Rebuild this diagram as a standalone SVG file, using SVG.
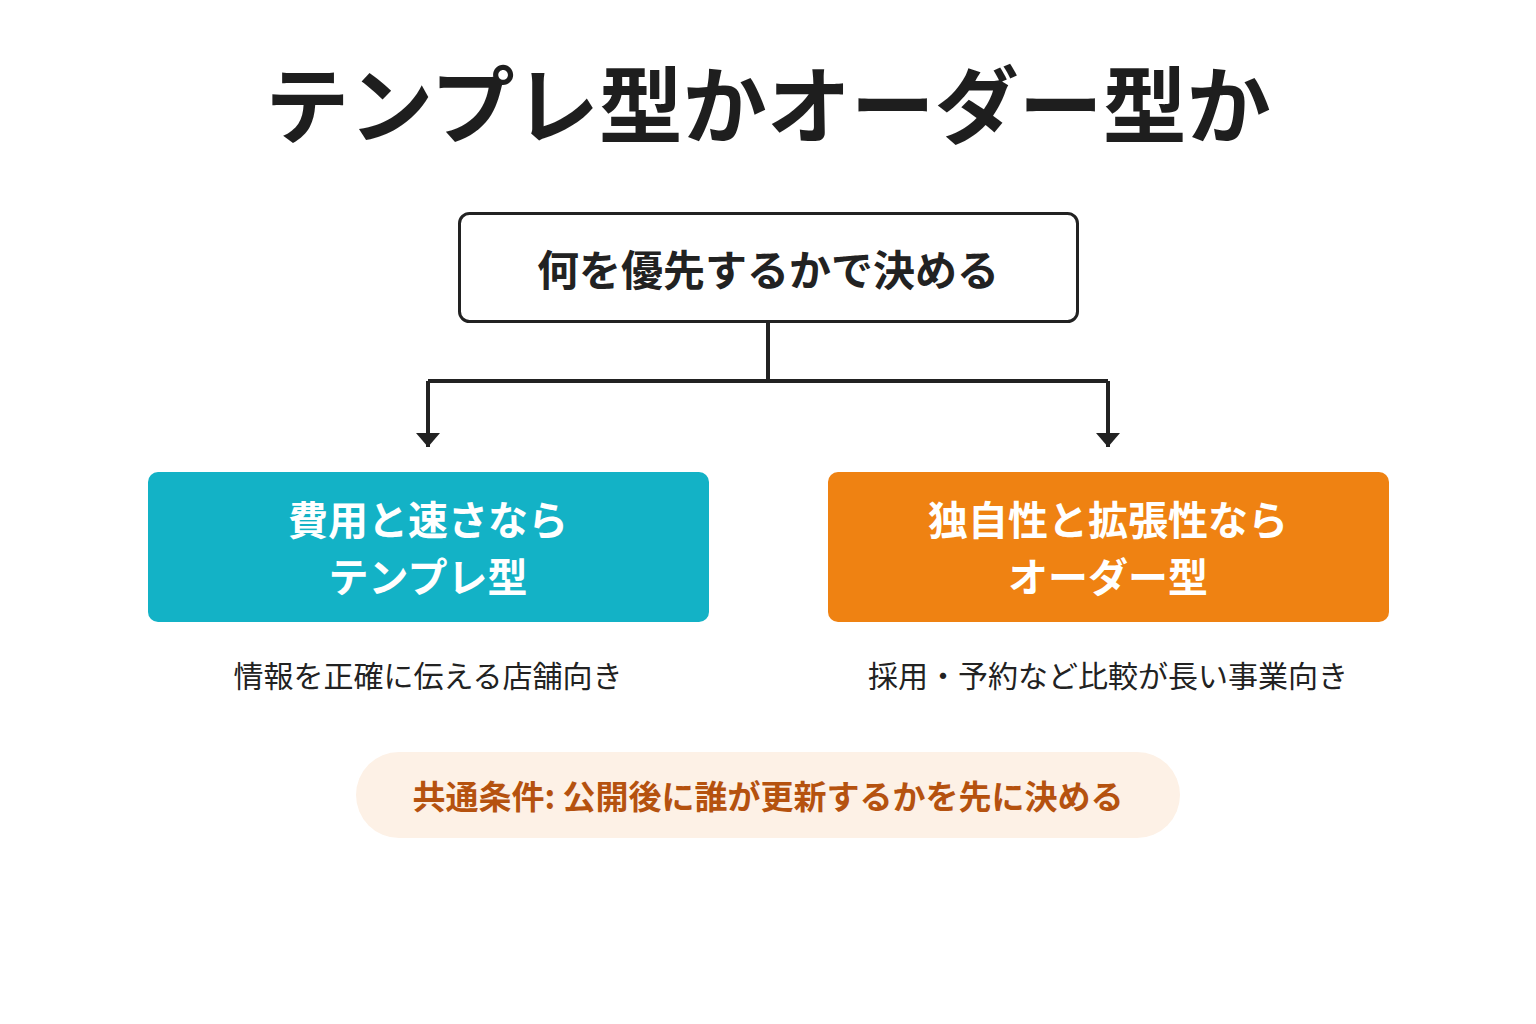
<svg xmlns="http://www.w3.org/2000/svg" width="1536" height="1024" viewBox="0 0 1536 1024">
<style>
text{font-family:"Noto Sans CJK JP","Noto Sans",sans-serif;text-anchor:middle;dominant-baseline:central}
.b{font-weight:700}
.w{fill:#fff;font-weight:700;font-size:40px}
.c{fill:#222;font-size:30px}
.conn{stroke:#222;stroke-width:4;fill:none}
</style>
<defs><marker id="ah" viewBox="0 0 10 10" refX="5" refY="10" markerWidth="6" markerHeight="4" markerUnits="userSpaceOnUse" orient="auto-start-reverse"><path d="M0,0 L10,0 L5,10 Z" fill="#222"/></marker>
<marker id="a" viewBox="0 0 24 14" refX="12" refY="14" markerWidth="24" markerHeight="14" markerUnits="userSpaceOnUse" orient="0"><path d="M0,0 L24,0 L12,14 Z" fill="#222"/></marker></defs>
<rect width="1536" height="1024" fill="#fff"/>
<text id="title" class="b" x="768" y="100" font-size="84" fill="#1e1e1e">テンプレ型かオーダー型か</text>
<g id="connectors">
<path class="conn" d="M768,321 V381 M428,381 H1108"/>
<path class="conn" d="M428,381 V447" marker-end="url(#a)"/>
<path class="conn" d="M1108,381 V447" marker-end="url(#a)"/>
</g>
<g id="root"><rect x="459.5" y="213.5" width="618" height="108" rx="10" fill="#fff" stroke="#222" stroke-width="3"/>
<text class="b" x="768" y="267" font-size="42" fill="#222">何を優先するかで決める</text></g>
<g id="template"><rect x="148" y="472" width="561" height="150" rx="10" fill="#13B2C6"/>
<text class="w" x="428" y="518">費用と速さなら</text><text class="w" x="428" y="575">テンプレ型</text></g>
<text id="cap1" class="c" x="428" y="674">情報を正確に伝える店舗向き</text>
<g id="order"><rect x="828" y="472" width="561" height="150" rx="10" fill="#EF8212"/>
<text class="w" x="1108" y="518">独自性と拡張性なら</text><text class="w" x="1108" y="575">オーダー型</text></g>
<text id="cap2" class="c" x="1108" y="674">採用・予約など比較が長い事業向き</text>
<g id="note"><rect x="356" y="752" width="824" height="86" rx="43" fill="#FDF1E6"/>
<text class="b" x="768" y="795" font-size="33" fill="#B5520F">共通条件: 公開後に誰が更新するかを先に決める</text></g>
</svg>
